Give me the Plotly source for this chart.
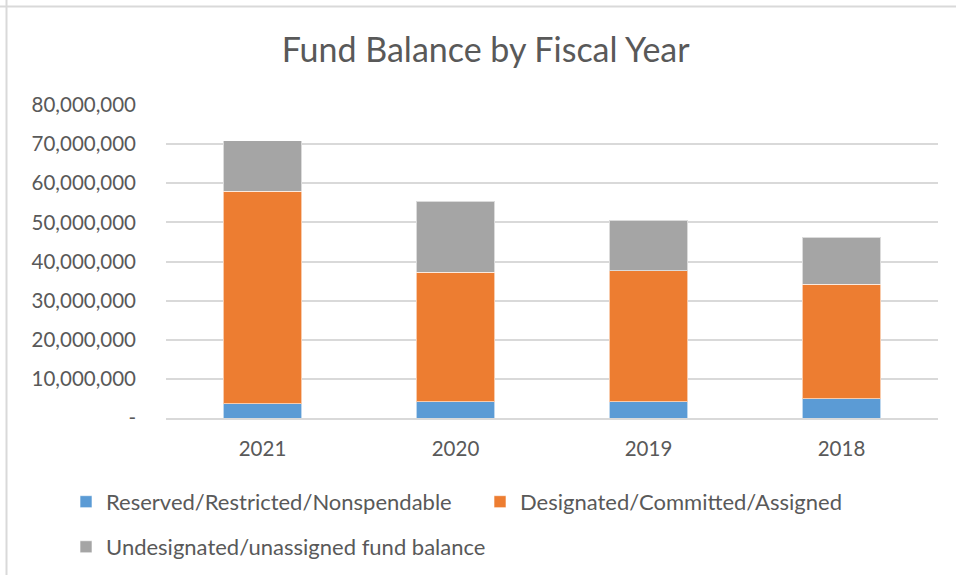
import plotly.graph_objects as go

# Fiscal years and fund balance components (USD)
years = ["2021", "2020", "2019", "2018"]
reserved = [3_600_000, 4_100_000, 4_100_000, 4_900_000]
designated = [54_400_000, 33_100_000, 33_500_000, 29_300_000]
undesignated = [12_900_000, 18_200_000, 13_000_000, 12_000_000]

series_names = [
    "Reserved/Restricted/Nonspendable",
    "Designated/Committed/Assigned",
    "Undesignated/unassigned fund balance",
]
series_colors = ["#5B9BD5", "#ED7D31", "#A5A5A5"]
series_legends = ["legend", "legend", "legend2"]

tick_vals = [0, 10_000_000, 20_000_000, 30_000_000, 40_000_000,
             50_000_000, 60_000_000, 70_000_000, 80_000_000]
tick_text = ["-", "10,000,000", "20,000,000", "30,000,000", "40,000,000",
             "50,000,000", "60,000,000", "70,000,000", "80,000,000"]

FONT = "Lato, Open Sans, sans-serif"
TEXT = "#595959"

fig = go.Figure()
for name, vals, col, lg in zip(series_names, [reserved, designated, undesignated],
                               series_colors, series_legends):
    fig.add_trace(go.Bar(
        x=years, y=vals, name=name, legend=lg,
        marker=dict(color=col, line=dict(color="rgba(255,255,255,0.6)", width=1)),
        width=0.405,
    ))

legend_common = dict(
    orientation="h", x=-0.1295, xanchor="left", yanchor="middle",
    font=dict(size=22, color=TEXT, family=FONT),
    traceorder="normal", itemwidth=30, bgcolor="rgba(0,0,0,0)",
)

fig.update_layout(
    barmode="stack",
    width=956, height=575,
    margin=dict(l=166, r=18, t=105, b=157, autoexpand=False),
    paper_bgcolor="white", plot_bgcolor="white",
    font=dict(family=FONT, color=TEXT, size=20.5),
    title=dict(text="Fund Balance by Fiscal Year", x=0.508, xanchor="center",
               y=0.913, yanchor="middle", font=dict(size=34, color=TEXT, family=FONT)),
    showlegend=True,
    legend=dict(y=-0.268, entrywidth=369, entrywidthmode="pixels", **legend_common),
    legend2=dict(y=-0.412, **legend_common),
)
fig.update_xaxes(
    showgrid=False, showline=True, linecolor="#D9D9D9", linewidth=1.5,
    ticks="", tickfont=dict(size=20.5, color=TEXT), ticklabelstandoff=12,
)
fig.update_yaxes(
    range=[0, 80_000_000], tickvals=tick_vals, ticktext=tick_text,
    showgrid=True, gridcolor="#D9D9D9", gridwidth=1.5, zeroline=False,
    showline=False, ticks="", tickfont=dict(size=20.5, color=TEXT), ticklabelstandoff=29,
)

# Chart-area frame
fig.add_shape(type="line", xref="paper", yref="paper",
              x0=-166/772 + 6.5/772, x1=-166/772 + 6.5/772, y0=-2, y1=2,
              line=dict(color="#D9D9D9", width=2))
fig.add_shape(type="line", xref="paper", yref="paper",
              x0=-1, x1=2, y0=1 + (105 - 6.5) / 313, y1=1 + (105 - 6.5) / 313,
              line=dict(color="#D9D9D9", width=2))

fig.write_html("out.html")
